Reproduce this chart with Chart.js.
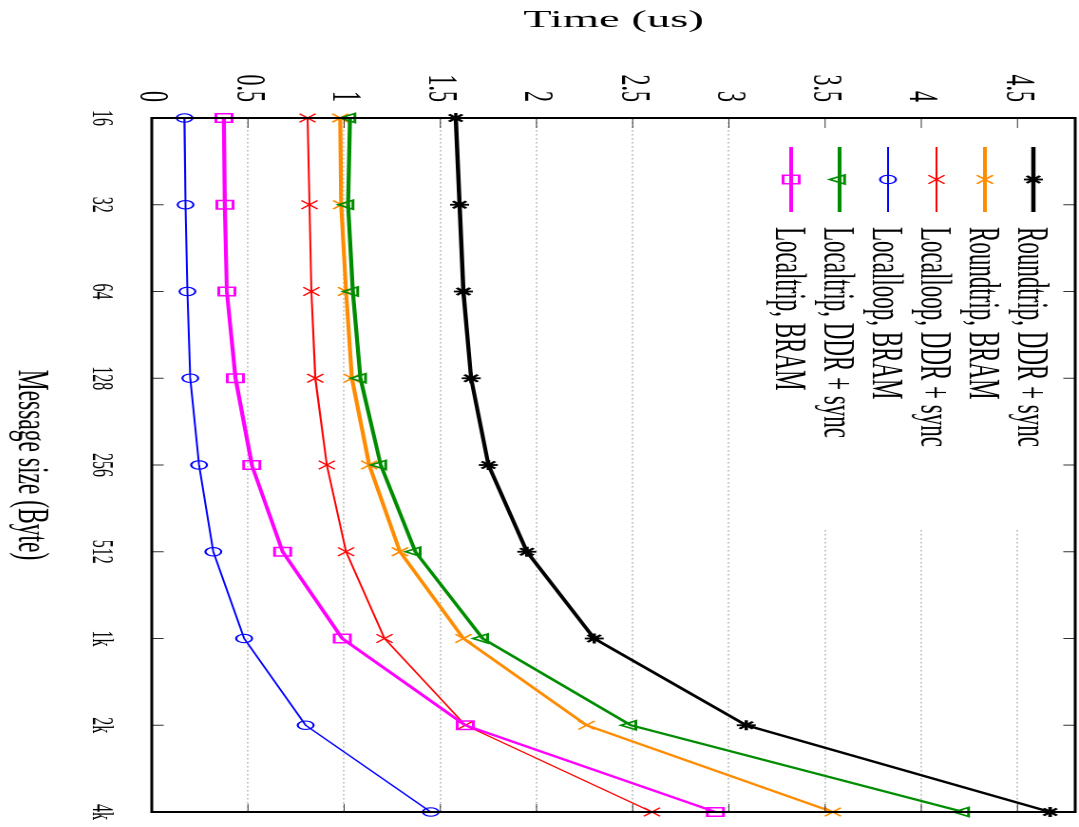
<!DOCTYPE html>
<html>
<head>
<meta charset="utf-8">
<script src="https://cdn.jsdelivr.net/npm/chart.js@4/dist/chart.umd.min.js"></script>
<style>
html,body{margin:0;padding:0;background:#fff;overflow:hidden;width:1079px;height:827px;}
#wrap{position:absolute;left:0;top:0;width:827px;height:568px;transform-origin:0 0;
  transform:translate(1079px,0) scale(1.9,1) rotate(90deg);}
</style>
</head>
<body>
<div id="wrap"><canvas id="c" width="827" height="568"></canvas></div>
<script>
// ---- data ----
const sizes = ['16','32','64','128','256','512','1k','2k','4k'];
const roundtripDDR  = [1.58, 1.60, 1.62, 1.66, 1.75, 1.95, 2.30, 3.09, 4.67];
const roundtripBRAM = [0.98, 0.985, 1.01, 1.04, 1.13, 1.29, 1.62, 2.26, 3.54];
const localloopDDR  = [0.81, 0.82, 0.83, 0.85, 0.91, 1.01, 1.21, 1.63, 2.60];
const localloopBRAM = [0.17, 0.175, 0.185, 0.20, 0.246, 0.32, 0.48, 0.80, 1.45];
const localtripDDR  = [1.03, 1.02, 1.045, 1.085, 1.19, 1.37, 1.72, 2.49, 4.22];
const localtripBRAM = [0.375, 0.38, 0.39, 0.435, 0.52, 0.68, 0.99, 1.63, 2.93];
const seriesNames = ['Roundtrip, DDR + sync','Roundtrip, BRAM','Localloop, DDR + sync','Localloop, BRAM','Localtrip, DDR + sync','Localtrip, BRAM'];
const timeTicks  = [0, 0.5, 1, 1.5, 2, 2.5, 3, 3.5, 4, 4.5];
const timeLabels = ['0','0.5','1','1.5','2','2.5','3','3.5','4','4.5'];

// ---- styles ----
const styles = [
  {color:'#000000', width:2.2, point:'star',     r:5,   pw:1.8, rot:0},
  {color:'#ff8c00', width:2.1, point:'crossRot', r:6,   pw:1.3, rot:0},
  {color:'#ff0000', width:1.05,point:'crossRot', r:6,   pw:1.1, rot:0},
  {color:'#0000ff', width:1.05,point:'circle',   r:4.2, pw:1.1, rot:0},
  {color:'#008c00', width:2.1, point:'triangle', r:5.2, pw:1.5, rot:180},
  {color:'#ff00ff', width:2.1, point:'rect',     r:6,   pw:1.5, rot:0}
];
const seriesData = [roundtripDDR, roundtripBRAM, localloopDDR, localloopBRAM, localtripDDR, localtripBRAM];

Chart.defaults.font.family = '"Liberation Serif", "Times New Roman", serif';
Chart.defaults.color = '#000';

function drawMarker(ctx, s, x, y) {
  const r = s.r;
  ctx.save();
  ctx.strokeStyle = s.color; ctx.lineWidth = s.pw;
  ctx.beginPath();
  if (s.point === 'circle') {
    ctx.arc(x, y, r, 0, Math.PI*2);
  } else if (s.point === 'rect') {
    const h = r*Math.SQRT1_2; ctx.rect(x-h, y-h, 2*h, 2*h);
  } else if (s.point === 'triangle') {
    let a = s.rot*Math.PI/180;
    ctx.moveTo(x + Math.sin(a)*r, y - Math.cos(a)*r);
    a += 2*Math.PI/3; ctx.lineTo(x + Math.sin(a)*r, y - Math.cos(a)*r);
    a += 2*Math.PI/3; ctx.lineTo(x + Math.sin(a)*r, y - Math.cos(a)*r);
    ctx.closePath();
  } else {
    const d = r*Math.SQRT1_2;
    ctx.moveTo(x-d, y-d); ctx.lineTo(x+d, y+d);
    ctx.moveTo(x-d, y+d); ctx.lineTo(x+d, y-d);
    if (s.point === 'star') {
      ctx.moveTo(x-r, y); ctx.lineTo(x+r, y);
      ctx.moveTo(x, y-r); ctx.lineTo(x, y+r);
    }
  }
  ctx.stroke();
  ctx.restore();
}

const framePlugin = {
  id: 'frame',
  beforeDatasetsDraw(chart) {
    const {ctx, chartArea: a} = chart;
    ctx.save();
    ctx.fillStyle = '#fff';
    ctx.fillRect(a.left + 1, a.top, 528 - a.left, 163 - a.top);
    ctx.restore();
  },
  afterDraw(chart) {
    const {ctx, chartArea: a, scales} = chart;
    ctx.save();
    // inward ticks
    ctx.strokeStyle = '#333';
    ctx.lineWidth = 0.6;
    timeTicks.forEach(v => {
      const py = scales.y.getPixelForValue(v);
      ctx.beginPath();
      ctx.moveTo(a.left, py); ctx.lineTo(a.left + 10, py);
      ctx.moveTo(a.right, py); ctx.lineTo(a.right - 8, py);
      ctx.stroke();
    });
    ctx.lineWidth = 1;
    sizes.forEach((lab, i) => {
      const px = scales.x.getPixelForValue(i);
      ctx.beginPath();
      ctx.moveTo(px, a.bottom); ctx.lineTo(px, a.bottom - 6.3);
      ctx.moveTo(px, a.top); ctx.lineTo(px, a.top + 6.3);
      ctx.stroke();
    });
    // frame
    ctx.strokeStyle = '#000';
    ctx.lineWidth = 1.5;
    ctx.beginPath();
    ctx.moveTo(a.left - 1, a.top); ctx.lineTo(a.right + 1, a.top);
    ctx.moveTo(a.left - 1, a.bottom); ctx.lineTo(a.right + 1, a.bottom);
    ctx.stroke();
    ctx.lineWidth = 2;
    ctx.beginPath();
    ctx.moveTo(a.left, a.top); ctx.lineTo(a.left, a.bottom);
    ctx.moveTo(a.right, a.top); ctx.lineTo(a.right, a.bottom);
    ctx.stroke();
    // legend
    ctx.font = '23px "Liberation Serif"';
    ctx.textAlign = 'left';
    ctx.textBaseline = 'alphabetic';
    chart.data.datasets.forEach((ds, i) => {
      const s = styles[i];
      const y = a.top + 22 + i*25.5;
      const x0 = a.left + 29, x1 = a.left + 94;
      ctx.strokeStyle = s.color; ctx.lineWidth = s.width;
      ctx.beginPath(); ctx.moveTo(x0, y); ctx.lineTo(x1, y); ctx.stroke();
      drawMarker(ctx, s, (x0 + x1)/2, y);
      ctx.fillStyle = '#000';
      ctx.fillText(ds.label, a.left + 109, y + 7.9);
    });
    ctx.restore();
  }
};

const datasets = seriesNames.map((name, i) => ({
  label: name,
  data: seriesData[i],
  borderColor: styles[i].color,
  borderWidth: styles[i].width,
  pointStyle: styles[i].point,
  pointRadius: styles[i].r,
  pointRotation: styles[i].rot,
  pointBorderWidth: styles[i].pw,
  pointBorderColor: styles[i].color,
  pointBackgroundColor: 'rgba(0,0,0,0)',
  backgroundColor: 'rgba(0,0,0,0)',
  fill: false,
  tension: 0,
  clip: false,
  order: seriesNames.length - 1 - i
}));

function zeroPad(s) { s.paddingTop = 0; s.paddingBottom = 0; s.paddingLeft = 0; s.paddingRight = 0; }

new Chart(document.getElementById('c'), {
  type: 'line',
  data: { labels: sizes, datasets },
  plugins: [framePlugin],
  options: {
    responsive: false,
    animation: false,
    devicePixelRatio: 2,
    layout: { autoPadding: false, padding: { top: 2, right: 15, left: 0, bottom: 0 } },
    plugins: { legend: { display: false }, tooltip: { enabled: false } },
    scales: {
      x: {
        type: 'category',
        offset: false,
        grid: { display: false, drawTicks: false },
        border: { display: false },
        ticks: { padding: 17, font: { size: 16 }, color: '#000', autoSkip: false, maxRotation: 0 },
        title: { display: true, text: 'Message size (Byte)', font: { size: 23.5 }, color: '#000', padding: { top: 0, bottom: 2 } },
        afterFit: s => { s.height = 80; zeroPad(s); }
      },
      y: {
        type: 'linear',
        min: 0, max: 4.8,
        grid: { color: '#b0b0b0', lineWidth: 0.7, drawTicks: false },
        border: { display: false, dash: [1.5, 2.5] },
        afterBuildTicks: s => { s.ticks = timeTicks.map(v => ({ value: v })); },
        ticks: { padding: 16, font: { size: 22 }, color: '#000', callback: (v, i) => timeLabels[i] },
        title: { display: true, text: 'Time (us)', font: { size: 24.5 }, color: '#000', padding: { top: 6, bottom: 0 } },
        afterFit: s => { s.width = 118; zeroPad(s); }
      }
    }
  }
});
</script>
</body>
</html>
